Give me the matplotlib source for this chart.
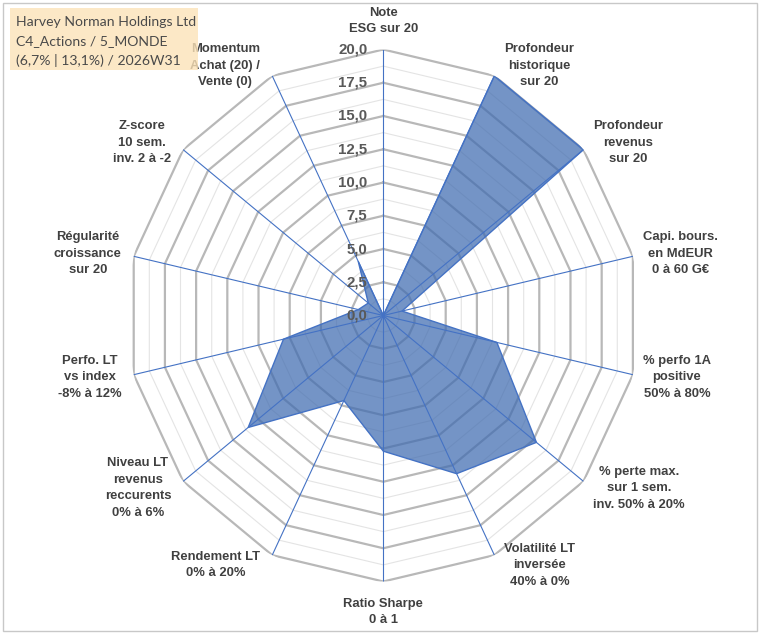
import numpy as np
import matplotlib
matplotlib.use('Agg')
import matplotlib.pyplot as plt
from matplotlib.patches import Rectangle

W, H = 760, 633

axis_labels = [
    'Note\nESG sur 20',
    'Profondeur\nhistorique\nsur 20',
    'Profondeur\nrevenus\nsur 20',
    'Capi. bours.\nen MdEUR\n0 à 60 G€',
    '% perfo 1A\npositive\n50% à 80%',
    '% perte max.\nsur 1 sem.\ninv. 50% à 20%',
    'Volatilité LT\ninversée\n40% à 0%',
    'Ratio Sharpe\n0 à 1',
    'Rendement LT\n0% à 20%',
    'Niveau LT\nrevenus\nreccurents\n0% à 6%',
    'Perfo. LT\nvs index\n-8% à 12%',
    'Régularité\ncroissance\nsur 20',
    'Z-score\n10 sem.\ninv. 2 à -2',
    'Momentum\nAchat (20) /\nVente (0)',
]
scores = [0.0, 20.0, 20.0, 1.5, 9.1, 15.3, 13.2, 10.2, 7.1, 13.5, 8.0, 2.0, 1.5, 4.5]
ring_ticks = [0.0, 2.5, 5.0, 7.5, 10.0, 12.5, 15.0, 17.5, 20.0]
minor_rings = [1.25, 3.75, 6.25, 8.75, 11.25, 13.75, 16.25, 18.75]
title_lines = ['Harvey Norman Holdings Ltd', 'C4_Actions / 5_MONDE', '(6,7% | 13,1%) / 2026W31']


def fig_xy(x, y):
    # pixel position (top-left origin) -> figure fraction
    return x / W, 1 - y / H


fig = plt.figure(figsize=(W / 100, H / 100), dpi=100)
fig.patch.set_facecolor('white')

# chart border
fig.add_artist(Rectangle(fig_xy(2.5, 630.5), 754 / W, 628 / H, transform=fig.transFigure,
                         fill=False, ec='#C8C8C8', lw=1))

# title box, drawn over the chart and a bit see-through
fig.add_artist(Rectangle(fig_xy(10, 70), 188 / W, 62 / H, transform=fig.transFigure,
                         fc='#FCE3B8', ec='none', alpha=0.8, zorder=5))
for i, line in enumerate(title_lines):
    x, y = fig_xy(15.5, 21.5 + 19.3 * i)
    fig.text(x, y, line, ha='left', va='center', fontsize=10.1, family='Lato',
             color='#4A4A4A', zorder=6)

# radar axes (slightly wider than tall like the source)
cx, cy = 383.3, 315.5
rx, ry = 256, 266
ax = fig.add_axes([(cx - rx) / W, 1 - (cy + ry) / H, 2 * rx / W, 2 * ry / H], projection='polar')
ax.set_aspect('auto')
ax.set_theta_zero_location('N')
ax.set_theta_direction(-1)
ax.set_ylim(0, 20)
ax.grid(False)
ax.set_xticks([])
ax.set_yticks([])
ax.spines['polar'].set_visible(False)
ax.patch.set_visible(False)

n = len(axis_labels)
theta = np.arange(n) * 2 * np.pi / n
closed = np.append(theta, theta[0])

for r in minor_rings:
    ax.plot(closed, [r] * (n + 1), color='#E4E4E4', lw=0.8, zorder=1)
for r in ring_ticks[1:]:
    ax.plot(closed, [r] * (n + 1), color='#B8B8B8', lw=1.6, zorder=2)
for t in theta:
    ax.plot([t, t], [0, 20], color='#4472C4', lw=0.8, zorder=4)

vals = scores + scores[:1]
ax.fill(closed, vals, color='#3F6BB0', alpha=0.72, lw=0, zorder=3)
ax.plot(closed, vals, color='#4472C4', lw=1, zorder=5)

# radial tick labels
for r in ring_ticks:
    ax.annotate(f'{r:.1f}'.replace('.', ','), xy=(0, r), xytext=(-16, 0),
                textcoords='offset pixels', ha='right', va='center', fontsize=10.8,
                fontweight='bold', family='Liberation Sans', color='#595959',
                zorder=6, annotation_clip=False)

# category labels
for t, lab in zip(theta, axis_labels):
    s, c = np.sin(t), np.cos(t)
    if abs(s) < 0.1:
        ha = 'center'
        va = 'bottom' if c > 0 else 'top'
        dx, dy = 0, (14 if c > 0 else -16)
    else:
        ha = 'left' if s > 0 else 'right'
        va = 'center'
        dx, dy = (10 if s > 0 else -12), 11 * c
    ax.annotate(lab, xy=(t, 20), xytext=(dx, dy), textcoords='offset pixels',
                ha=ha, va=va, multialignment='center', fontsize=9.4, fontweight='bold',
                family='Liberation Sans', color='#404040', linespacing=1.5,
                annotation_clip=False)

fig.savefig('out.png', dpi=100)
